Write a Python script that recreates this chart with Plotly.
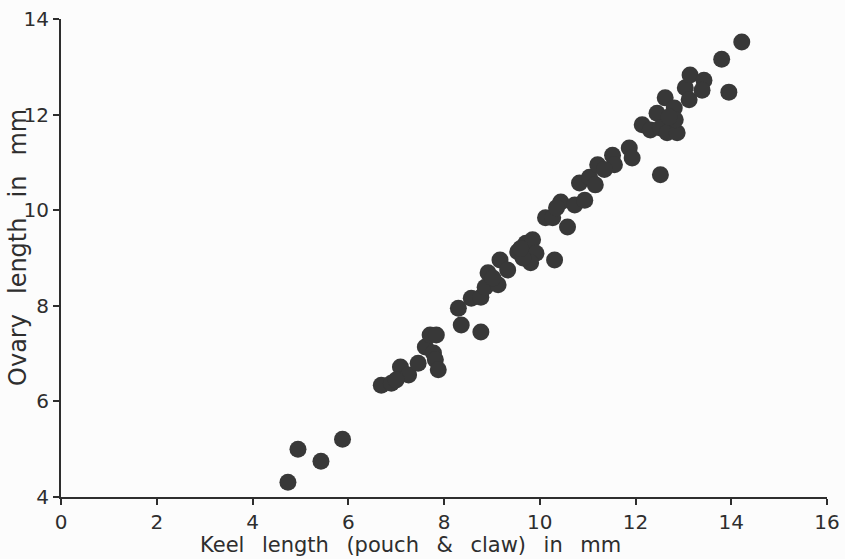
import plotly.graph_objects as go

keel = [4.74, 4.95, 5.43, 5.88,
        6.69, 6.90, 7.09, 7.26, 7.46, 7.61, 7.71, 7.84, 7.78, 7.82, 7.88, 7.00,
        8.30, 8.36, 8.77, 8.57, 8.77, 8.86, 8.92, 9.13, 9.17, 9.33, 9.54, 9.71,
        9.85, 9.92, 9.81, 10.31, 9.02, 9.65, 9.60,
        10.12, 10.27, 10.44, 10.58, 10.73, 10.83, 11.04, 11.16, 11.21, 10.94,
        11.52, 11.56, 11.87, 11.93, 10.35, 11.35,
        12.14, 12.31, 12.45, 12.62, 12.81, 12.52, 12.66, 12.87, 12.83, 12.70,
        13.04, 13.14, 13.12, 13.43, 13.39, 13.80, 14.22, 13.95, 12.52]
ovary = [4.31, 5.00, 4.75, 5.21,
         6.34, 6.38, 6.72, 6.55, 6.80, 7.14, 7.39, 7.39, 7.01, 6.87, 6.66, 6.45,
         7.95, 7.60, 7.45, 8.16, 8.18, 8.39, 8.69, 8.44, 8.96, 8.75, 9.13, 9.31,
         9.38, 9.10, 8.90, 8.96, 8.58, 9.00, 9.20,
         9.84, 9.84, 10.17, 9.65, 10.11, 10.57, 10.69, 10.53, 10.95, 10.21,
         11.15, 10.95, 11.30, 11.09, 10.05, 10.85,
         11.79, 11.68, 12.03, 12.35, 12.14, 11.72, 11.62, 11.62, 11.89, 11.95,
         12.56, 12.83, 12.31, 12.72, 12.51, 13.16, 13.52, 12.47, 10.74]

x_ticks = [0, 2, 4, 6, 8, 10, 12, 14, 16]
y_ticks = [4, 6, 8, 10, 12, 14]

font_family = "DejaVu Sans"
ink = "#2e2e2e"
sp = "\u00a0\u00a0\u2009"
x_title = f"Keel{sp}length{sp}(pouch{sp}&{sp}claw){sp}in{sp}mm"
y_title = f"Ovary{sp}length{sp}in{sp}mm"

fig = go.Figure()
fig.add_trace(go.Scatter(
    x=keel, y=ovary, mode="markers",
    marker=dict(size=17, color="#383838", line=dict(width=0)),
    hoverinfo="x+y", showlegend=False,
))

fig.update_layout(
    width=845, height=559,
    margin=dict(l=61, r=18, t=19, b=62),
    paper_bgcolor="#fcfcfc", plot_bgcolor="#fcfcfc",
    font=dict(family=font_family, color=ink, size=19),
    xaxis=dict(
        range=[0, 16], tickvals=x_ticks, ticktext=[str(v) for v in x_ticks],
        automargin=False,
        showgrid=False, zeroline=False, showline=True, linecolor=ink, linewidth=2,
        ticks="outside", ticklen=6, tickcolor=ink, tickwidth=1.5,
        tickfont=dict(size=20),
    ),
    yaxis=dict(
        range=[4, 14], tickvals=y_ticks, ticktext=[str(v) for v in y_ticks],
        automargin=False,
        showgrid=False, zeroline=False, showline=True, linecolor=ink, linewidth=2,
        ticks="outside", ticklen=6, tickcolor=ink, tickwidth=1.5,
        tickfont=dict(size=20),
    ),
    annotations=[
        dict(text=x_title, xref="paper", yref="paper", x=0.456, y=0,
             xanchor="center", yanchor="middle", yshift=-48, showarrow=False,
             font=dict(size=21, color=ink, family=font_family)),
        dict(text=y_title, xref="paper", yref="paper", x=0, y=0.521,
             xanchor="center", yanchor="middle", xshift=-43, textangle=-90,
             showarrow=False, font=dict(size=24, color=ink, family=font_family)),
    ],
)

fig.write_html("out.html")
